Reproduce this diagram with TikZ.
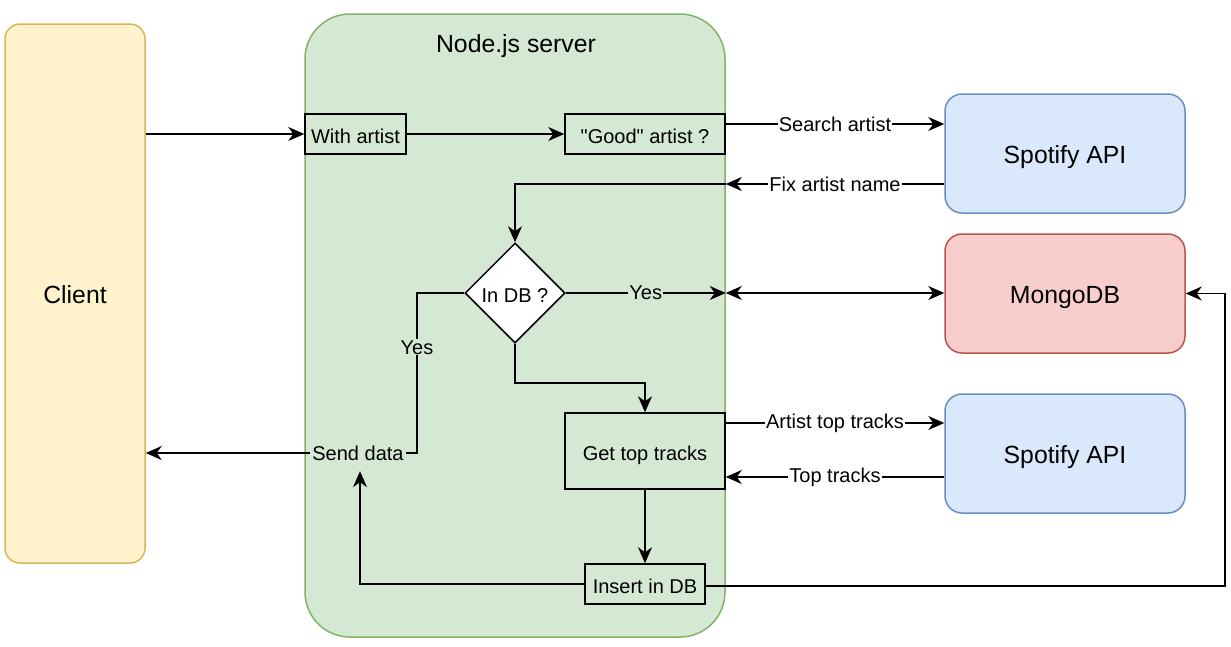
\documentclass[tikz,border=0pt]{standalone}
\usepackage{fontspec}
\setmainfont{Liberation Sans}[Ligatures=TeXOff]
\usetikzlibrary{shapes.geometric,arrows.meta}
\definecolor{cliFill}{HTML}{FFF2CC}
\definecolor{cliDraw}{HTML}{D6B656}
\definecolor{srvFill}{HTML}{D5E8D4}
\definecolor{srvDraw}{HTML}{82B366}
\definecolor{bluFill}{HTML}{DAE8FC}
\definecolor{bluDraw}{HTML}{6C8EBF}
\definecolor{redFill}{HTML}{F8CECC}
\definecolor{redDraw}{HTML}{B85450}
\tikzset{
  smallfont/.style={font=\fontsize{20}{24}\selectfont},
  bigfont/.style={font=\fontsize{24.8}{29}\selectfont},
  lowsmall/.style={text height=18.4pt, text depth=0pt},
  lowbig/.style={text height=20.8pt, text depth=0pt},
  container/.style={draw=#1Draw, fill=#1Fill, line width=1.5pt, inner sep=0pt, bigfont, lowbig},
  procbox/.style={draw=black, line width=1.5pt, inner sep=0pt, smallfont, lowsmall},
  decision/.style={diamond, aspect=1, draw=black, fill=white, line width=1.5pt, inner sep=0pt, minimum width=100pt, minimum height=100pt, smallfont, lowsmall},
  conn/.style={line width=1.5pt, -{Stealth[length=16pt,width=14pt,inset=5pt]}},
  plainconn/.style={line width=1.5pt},
  twoway/.style={line width=1.5pt, {Stealth[length=16pt,width=14pt,inset=5pt]}-{Stealth[length=16pt,width=14pt,inset=5pt]}},
  lblw/.style={fill=white, inner sep=1pt, smallfont},
  lblg/.style={fill=srvFill, inner sep=1pt, smallfont},
}
\begin{document}
\begin{tikzpicture}[x=1pt,y=-1pt]
\useasboundingbox (0,0) rectangle (1231,646);
% containers
\node[container=cli, rounded corners=15pt, minimum width=140pt, minimum height=539pt] (client) at (75,293.5) {Client};
\node[container=srv, rounded corners=45pt, minimum width=420pt, minimum height=623pt] (server) at (515,325.5) {};
\node[bigfont, lowbig] (srvtitle) at (516,42) {Node.js server};
\node[container=blu, rounded corners=17pt, minimum width=240pt, minimum height=119pt] (spot1) at (1065,153.5) {Spotify API};
\node[container=red, rounded corners=17pt, minimum width=240pt, minimum height=119pt] (mongo) at (1065,293.5) {MongoDB};
\node[container=blu, rounded corners=17pt, minimum width=240pt, minimum height=119pt] (spot2) at (1065,453.5) {Spotify API};
% process nodes
\node[procbox, minimum width=101pt, minimum height=40pt] (withartist) at (355.5,134) {With artist};
\node[procbox, minimum width=160pt, minimum height=40pt] (good) at (645,134) {"Good" artist ?};
\node[decision] (indb) at (515,293) {In DB ?};
\node[procbox, minimum width=160pt, minimum height=76pt] (gettop) at (645,451) {Get top tracks};
\node[procbox, minimum width=120pt, minimum height=40pt] (insert) at (645,584) {Insert in DB};
\node[smallfont, inner sep=2pt, minimum height=36pt] (send) at (358,453) {Send data};
% helper coordinates
\coordinate (ySA) at (0,124);
\coordinate (yFix) at (0,184);
\coordinate (yMid) at (0,383);
\coordinate (yAT) at (0,423);
\coordinate (yTT) at (0,477);
\coordinate (xYes) at (417,0);
\coordinate (xR) at (1225,0);
% connectors
\draw[conn] (client.east |- withartist.west) -- (withartist.west);
\draw[conn] (withartist.east) -- (good.west);
\draw[conn] (good.east |- ySA) -- node[lblw]{Search artist} (spot1.west |- ySA);
\draw[conn] (spot1.west |- yFix) -- node[lblw]{Fix artist name} (server.east |- yFix);
\draw[conn] (server.east |- yFix) -| (indb.north);
\draw[conn] (indb.east) -- node[lblg]{Yes} (server.east |- indb.east);
\draw[twoway] (server.east |- indb.east) -- (mongo.west |- indb.east);
\draw[plainconn] (indb.west) -- (indb.west -| xYes) -- node[lblg, pos=0.34]{Yes} (send.east -| xYes) -- (send.east);
\draw[conn] (send.west) -- (client.east |- send.west);
\draw[conn] (indb.south) -- (indb.south |- yMid) -| (gettop.north);
\draw[conn] (gettop.east |- yAT) -- node[lblw]{Artist top tracks} (spot2.west |- yAT);
\draw[conn] (spot2.west |- yTT) -- node[lblw]{Top tracks} (gettop.east |- yTT);
\draw[conn] (gettop.south) -- (insert.north);
\draw[conn] (insert.west) -| ([xshift=2pt]send.south);
\draw[conn] ([yshift=-2pt]insert.east) -- ([yshift=-2pt]insert.east -| xR) |- (mongo.east);
\end{tikzpicture}
\end{document}
